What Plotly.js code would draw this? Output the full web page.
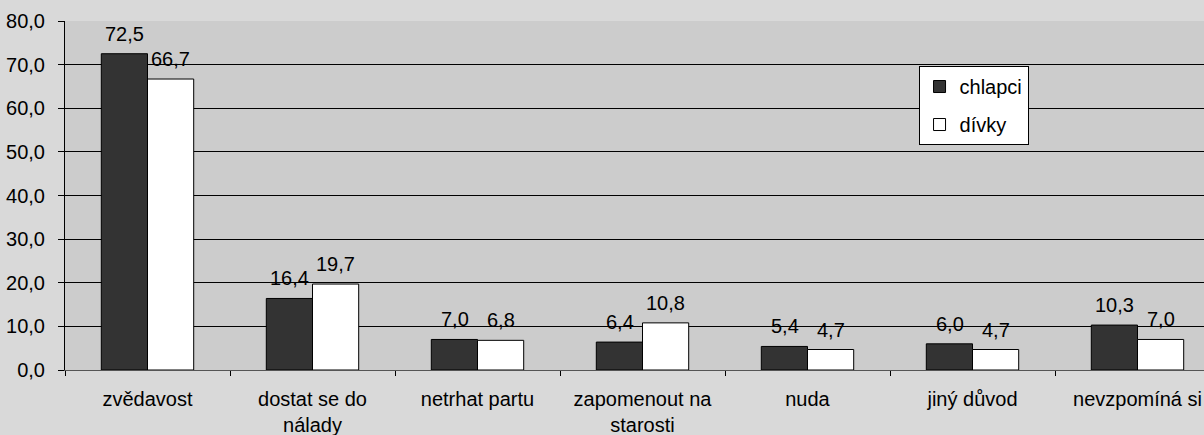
<!DOCTYPE html>
<html>
<head>
<meta charset="utf-8">
<script src="https://cdn.plot.ly/plotly-3.0.1.min.js"></script>
<style>
html,body{margin:0;padding:0;overflow:hidden;background:#d9d9d9;}
#chart{width:1222px;height:435px;}
</style>
</head>
<body>
<div id="chart"></div>
<script>
const categories = ["zvědavost", "dostat se do<br>nálady", "netrhat partu", "zapomenout na<br>starosti", "nuda", "jiný důvod", "nevzpomíná si"];
const chlapci = [72.5, 16.4, 7.0, 6.4, 5.4, 6.0, 10.3];
const divky = [66.7, 19.7, 6.8, 10.8, 4.7, 4.7, 7.0];
const seriesNames = ["chlapci", "dívky"];
const yTicks = [0, 10, 20, 30, 40, 50, 60, 70, 80];

const font = {family: "Liberation Sans, Arial, sans-serif", size: 20, color: "#000"};

const traces = [
  {
    type: "bar", name: seriesNames[0], x: categories, y: chlapci,
    marker: {color: "#333333", line: {color: "#000", width: 1}},
    legendgroup: "a", hoverinfo: "none"
  },
  {
    type: "bar", name: seriesNames[1], x: categories, y: divky,
    marker: {color: "#ffffff", line: {color: "#000", width: 1}},
    legendgroup: "b", hoverinfo: "none"
  }
];

const fmt = v => v.toFixed(1).replace(".", ",");
const annotations = [];
[chlapci, divky].forEach((series, si) => {
  series.forEach((v, i) => {
    annotations.push({
      x: categories[i], y: v, xref: "x", yref: "y",
      text: fmt(v), showarrow: false,
      xanchor: "center", yanchor: "bottom",
      xshift: si === 0 ? -23 : 23, yshift: 7,
      font: font
    });
  });
});

const layout = {
  width: 1222, height: 435,
  margin: {l: 65, r: 2, t: 21, b: 65},
  paper_bgcolor: "#d9d9d9",
  plot_bgcolor: "#cccccc",
  separators: ", ",
  font: font,
  barmode: "group",
  bargap: 0.44,
  bargroupgap: 0,
  showlegend: true,
  annotations: annotations,
  legend: {
    x: 0.739, y: 0.871, xanchor: "left", yanchor: "top",
    bgcolor: "#ffffff", bordercolor: "#000", borderwidth: 1,
    font: font, traceorder: "grouped", tracegroupgap: 9,
    itemwidth: 30
  },
  xaxis: {
    type: "category",
    showline: true, linecolor: "#555", linewidth: 1,
    ticks: "outside", tickson: "boundaries", ticklen: 5, tickcolor: "#000",
    showgrid: false, tickfont: font, automargin: false,
    ticklabelstandoff: 11
  },
  yaxis: {
    range: [0, 80], tickvals: yTicks, tickformat: ".1f",
    showline: true, linecolor: "#000", linewidth: 1,
    ticks: "outside", ticklen: 6, tickcolor: "#000",
    showgrid: true, gridcolor: "#000", gridwidth: 1,
    zeroline: false, tickfont: font, automargin: false,
    ticklabelstandoff: 9
  }
};

Plotly.newPlot("chart", traces, layout, {displayModeBar: false, staticPlot: true});
</script>
</body>
</html>
